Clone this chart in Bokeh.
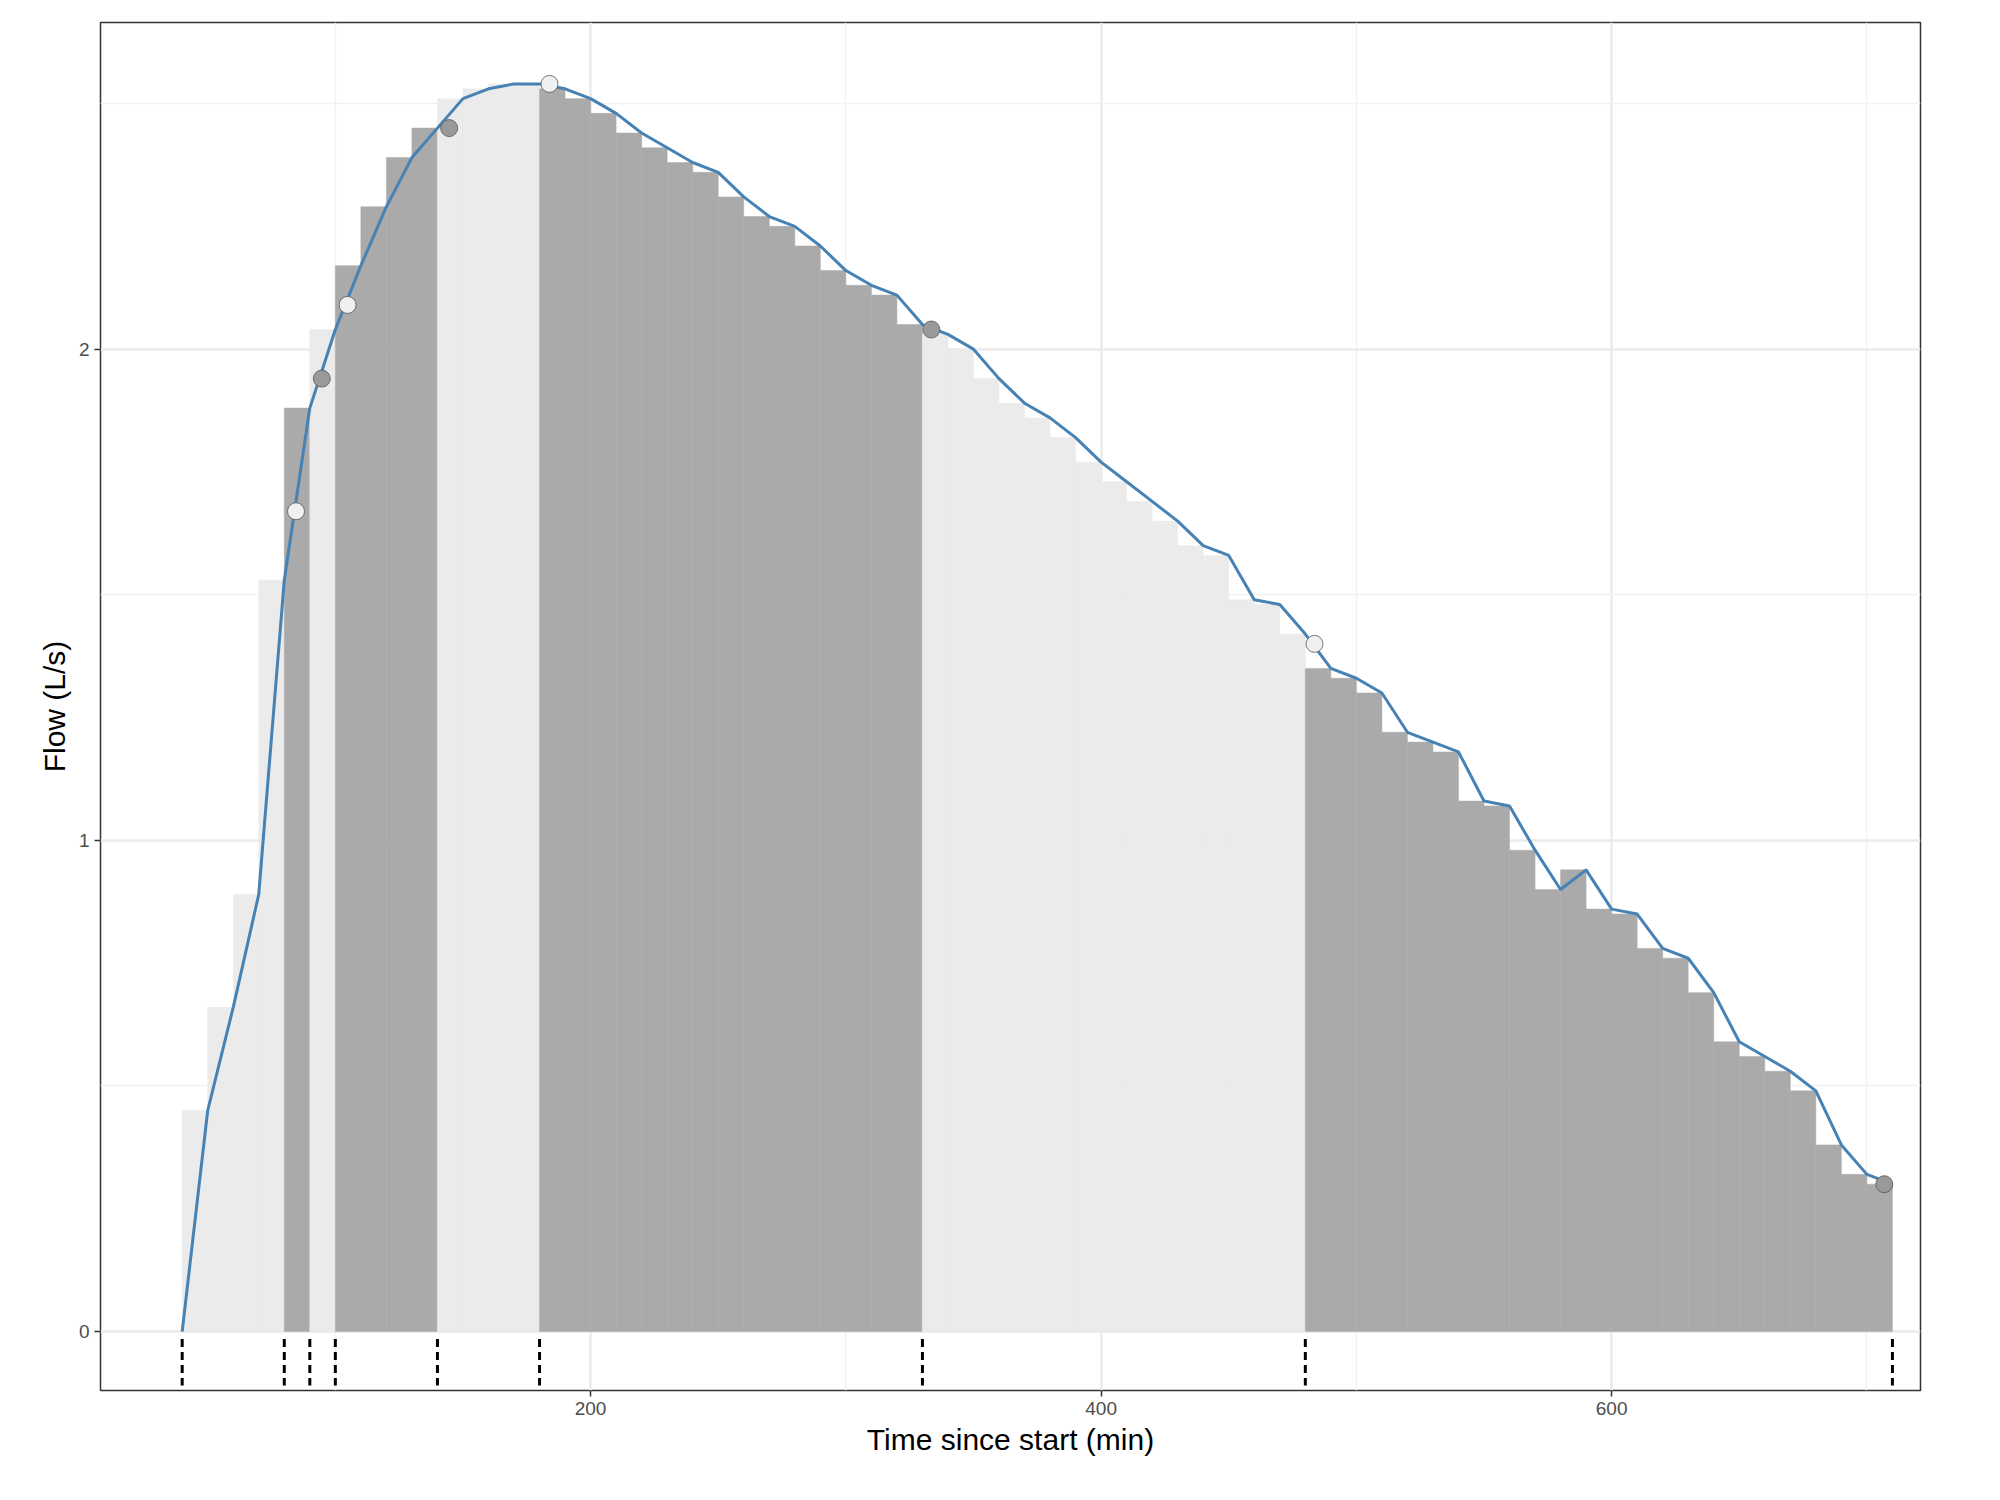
from bokeh.plotting import figure
from bokeh.models import ColumnDataSource, FixedTicker, Range1d
from bokeh.embed import file_html
from bokeh.resources import INLINE

# flow values at the end of each 10 min step
times = [50, 60, 70, 80, 90, 100, 110, 120, 130, 140, 150, 160, 170, 180, 190, 200,
         210, 220, 230, 240, 250, 260, 270, 280, 290, 300, 310, 320, 330, 340, 350,
         360, 370, 380, 390, 400, 410, 420, 430, 440, 450, 460, 470, 480, 490, 500,
         510, 520, 530, 540, 550, 560, 570, 580, 590, 600, 610, 620, 630, 640, 650,
         660, 670, 680, 690, 700, 710]
flow = [0.45, 0.66, 0.89, 1.53, 1.88, 2.04, 2.17, 2.29, 2.39, 2.45, 2.51, 2.53, 2.54,
        2.54, 2.53, 2.51, 2.48, 2.44, 2.41, 2.38, 2.36, 2.31, 2.27, 2.25, 2.21, 2.16,
        2.13, 2.11, 2.05, 2.03, 2.00, 1.94, 1.89, 1.86, 1.82, 1.77, 1.73, 1.69, 1.65,
        1.60, 1.58, 1.49, 1.48, 1.42, 1.35, 1.33, 1.30, 1.22, 1.20, 1.18, 1.08, 1.07,
        0.98, 0.90, 0.94, 0.86, 0.85, 0.78, 0.76, 0.69, 0.59, 0.56, 0.53, 0.49, 0.38,
        0.32, 0.30]
start_time = 40

# segment boundaries (rug marks)
breaks = [40, 80, 90, 100, 140, 180, 330, 480, 710]

# segment points
pt_time = [84.6, 94.7, 104.8, 144.6, 183.9, 333.5, 483.6, 706.8]
pt_flow = [1.67, 1.94, 2.09, 2.45, 2.54, 2.04, 1.40, 0.30]
pt_fill = ["#f0f0f0", "#999999", "#f0f0f0", "#999999", "#f0f0f0", "#999999", "#f0f0f0", "#999999"]

light, dark = "#ebebeb", "#aaaaaa"
bar_col = []
for t in times:
    seg = sum(1 for b in breaks[1:] if t > b)
    bar_col.append(light if seg % 2 == 0 else dark)

src = ColumnDataSource(dict(x=[t - 5 for t in times], top=flow, color=bar_col))

p = figure(width=1980, height=1480, output_backend="svg", toolbar_location=None,
           x_range=Range1d(8, 721), y_range=Range1d(-0.12, 2.665),
           x_axis_label="Time since start (min)", y_axis_label="Flow (L/s)")

p.vbar(x="x", width=10, top="top", bottom=0, fill_color="color", line_color="color",
       line_width=0.5, source=src)
p.line([start_time] + times, [0] + flow, line_color="#4682b4", line_width=3)
p.scatter(pt_time, pt_flow, size=17, fill_color=pt_fill, line_color="#555555", line_width=0.8)
p.segment(x0=breaks, y0=[-0.015] * len(breaks), x1=breaks, y1=[-0.11] * len(breaks),
          line_color="black", line_width=3, line_dash="8 5")

p.xaxis.ticker = FixedTicker(ticks=[200, 400, 600], minor_ticks=[100, 300, 500, 700])
p.yaxis.ticker = FixedTicker(ticks=[0, 1, 2], minor_ticks=[0.5, 1.5, 2.5])
p.xgrid.minor_grid_line_color = "#f2f2f2"
p.ygrid.minor_grid_line_color = "#f2f2f2"
p.grid.grid_line_color = "#ebebeb"
p.grid.grid_line_width = 2.5
p.grid.minor_grid_line_width = 1.5
p.grid.level = "underlay"

for ax in (p.xaxis, p.yaxis):
    ax.axis_line_color = None
    ax.minor_tick_line_color = None
    ax.major_tick_line_color = "#333333"
    ax.major_tick_line_width = 1.5
    ax.major_tick_out = 6
    ax.major_tick_in = 0
    ax.major_label_text_font = "Liberation Sans"
    ax.major_label_text_font_size = "19px"
    ax.major_label_text_color = "#4d4d4d"
    ax.axis_label_text_font = "Liberation Sans"
    ax.axis_label_text_font_size = "30px"
    ax.axis_label_text_font_style = "normal"
    ax.axis_label_text_color = "black"

p.outline_line_color = "#333333"
p.outline_line_width = 1.5
p.background_fill_color = "white"
p.min_border_left = 100
p.min_border_bottom = 90
p.min_border_top = 22
p.min_border_right = 60

open("out.html", "w").write(file_html(p, INLINE))
